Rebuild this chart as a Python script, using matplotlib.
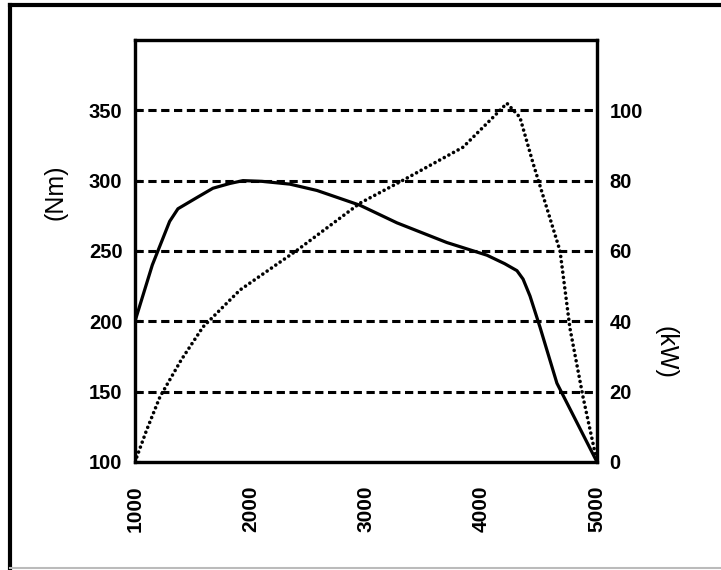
import matplotlib
matplotlib.use("Agg")
import matplotlib.pyplot as plt
from matplotlib.lines import Line2D

# Data
torque_rpm = [1000, 1150, 1300, 1372, 1537, 1675, 1822, 1935, 2100, 2342, 2576, 2948, 3268, 3700, 4047, 4200, 4307, 4360, 4420, 4506, 4653, 5000]
torque_nm = [200, 240, 271, 280, 288, 294.6, 298, 300, 299.5, 297.5, 293, 282.5, 270, 256, 247, 241, 236, 230, 218, 196, 156, 100]

power_rpm = [1000, 1100, 1216, 1400, 1589, 1909, 2403, 2948, 3320, 3840, 4100, 4220, 4333, 4446, 4680, 4766, 4879, 5000]
power_kw = [0, 9, 18.5, 29, 38.4, 48.9, 60.2, 73.6, 80.1, 89.5, 98, 102, 98, 85, 60, 38, 18.5, 0]

x_ticks = [1000, 2000, 3000, 4000, 5000]
left_ticks = [100, 150, 200, 250, 300, 350]
right_ticks = [0, 20, 40, 60, 80, 100]
grid_levels = [150, 200, 250, 300, 350]

plt.rcParams['font.family'] = ['Liberation Sans', 'DejaVu Sans']

fig = plt.figure(figsize=(7.21, 5.70), dpi=100)
ax = fig.add_axes([0.1872, 0.1895, 0.6408, 0.7404])
ax2 = ax.twinx()

for lvl in grid_levels:
    ax.axhline(lvl, color='black', lw=2.2, linestyle=(0, (2.7, 1.5)), zorder=1)

ax.plot(torque_rpm, torque_nm, color='black', lw=2.3, zorder=3, solid_joinstyle='round')
ax2.plot(power_rpm, power_kw, color='black', lw=2.6, linestyle=(0, (0.01, 1.45)),
         dash_capstyle='round', zorder=3)

ax.set_xlim(1000, 5000)
ax.set_ylim(100, 400)
ax2.set_ylim(0, 120)

ax.set_xticks(x_ticks)
ax.set_xticklabels([str(t) for t in x_ticks], rotation=90, fontsize=15, fontweight='bold')
ax.set_yticks(left_ticks)
ax.set_yticklabels([str(t) for t in left_ticks], fontsize=14.5, fontweight='bold')
ax2.set_yticks(right_ticks)
ax2.set_yticklabels([str(t) for t in right_ticks], fontsize=14.5, fontweight='bold')

ax.tick_params(axis='x', length=0, pad=17)
ax.tick_params(axis='y', direction='in', length=4, width=1.5, pad=9)
ax2.tick_params(axis='y', length=0, pad=9)

for sp in list(ax.spines.values()) + list(ax2.spines.values()):
    sp.set_linewidth(2.3)
    sp.set_color('black')

ax.set_ylabel('(Nm)', fontsize=18, labelpad=18)
ax2.set_ylabel('(kW)', fontsize=18, rotation=270, labelpad=42)
ax.yaxis.set_label_coords(-0.145, 0.64)
ax2.yaxis.set_label_coords(1.175, 0.26)

# Outer frame of the image
fig.add_artist(Line2D([0.0139, 0.0139], [0.0035, 0.991], transform=fig.transFigure, color='black', lw=3))
fig.add_artist(Line2D([0.0139, 1.0], [0.991, 0.991], transform=fig.transFigure, color='black', lw=3))
fig.add_artist(Line2D([0.0139, 1.0], [0.004, 0.004], transform=fig.transFigure, color='#bbbbbb', lw=1.5))

fig.savefig('out.png', dpi=100)
